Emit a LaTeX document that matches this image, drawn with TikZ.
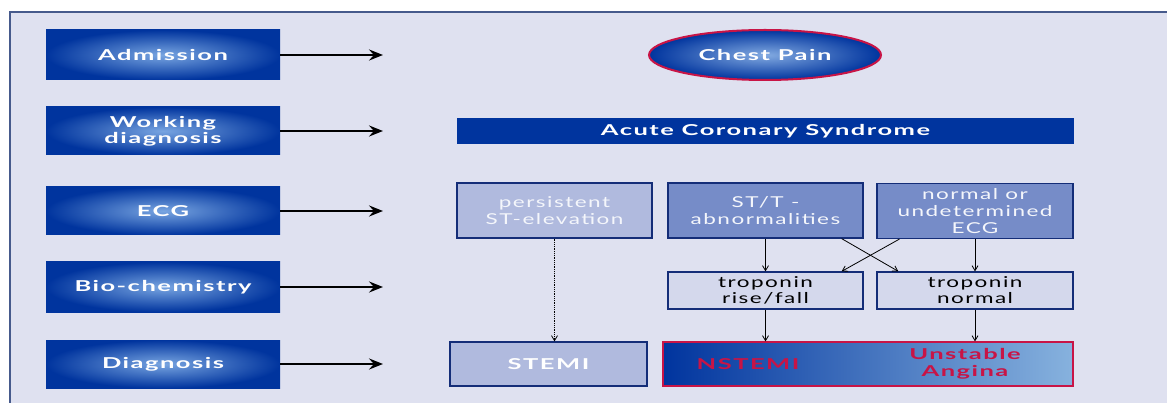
\documentclass[tikz,border=0pt]{standalone}
\usepackage{fontspec}
\setmainfont{Lato}
\newfontfamily\wideface{Lato}[FakeStretch=1.5, LetterSpace=10]
\newfontfamily\widebold{Lato}[FakeStretch=1.7, LetterSpace=10]
\usetikzlibrary{shapes.geometric,arrows.meta}
\definecolor{bgpanel}{RGB}{223,225,240}
\definecolor{frameline}{RGB}{70,90,140}
\definecolor{darkblue}{RGB}{0,52,158}
\definecolor{midblue}{RGB}{118,140,200}
\definecolor{paleblue}{RGB}{176,186,222}
\definecolor{trop}{RGB}{212,216,236}
\definecolor{edgeblue}{RGB}{20,45,120}
\definecolor{alertred}{RGB}{200,20,70}
\tikzset{
  stepbox/.style={rectangle, inner sep=0pt, text=white, font=\widebold\fontsize{15}{16}\selectfont\bfseries,
    inner color={rgb,255:red,120;green,165;blue,225}, outer color=darkblue, align=center},
  ecgbox/.style={rectangle, draw=edgeblue, line width=1.2pt, inner sep=0pt, text=white!92!midblue,
    font=\wideface\fontsize{15}{17}\selectfont, align=center},
  tropbox/.style={rectangle, draw=edgeblue, line width=1.2pt, fill=trop, inner sep=0pt,
    font=\wideface\fontsize{15}{16}\selectfont, align=center},
  rowarrow/.style={line width=2.5pt, -{Stealth[length=14pt,width=11pt,inset=5pt]}},
  thinarrow/.style={line width=0.8pt, -{Straight Barb[length=5pt,width=6pt]}}
}
\begin{document}
\begin{tikzpicture}[x=1pt,y=-1pt]
\useasboundingbox (0,0) rectangle (1167,403);
% panel
\fill[white] (0,0) rectangle (1167,403);
\fill[bgpanel] (10,12) rectangle (1167,403);
\draw[frameline, line width=1.2pt] (10,403) -- (10,12) -- (1167,12);

% left column of steps
\node[stepbox, minimum width=234, minimum height=50] (admission) at (163,55) {Admission};
\node[stepbox, minimum width=234, minimum height=48] (working) at (163,131) {Working\\diagnosis};
\node[stepbox, minimum width=234, minimum height=48] (ecg) at (163,211) {ECG};
\node[stepbox, minimum width=234, minimum height=50] (biochem) at (163,287) {Bio-chemistry};
\node[stepbox, minimum width=234, minimum height=48] (diagnosis) at (163,364) {Diagnosis};

% arrow ends
\coordinate (admissionend) at (383,55);
\coordinate (workingend) at (383,131);
\coordinate (ecgend) at (383,211);
\coordinate (biochemend) at (383,287);
\coordinate (diagnosisend) at (383,364);
\foreach \s in {admission,working,ecg,biochem,diagnosis}
  \draw[rowarrow] (\s.east) -- (\s end);

% admission and working diagnosis
\node[ellipse, draw=alertred, line width=2pt, minimum width=232, minimum height=50, inner sep=0pt,
  inner color={rgb,255:red,130;green,170;blue,225}, outer color=darkblue, text=white,
  font=\widebold\fontsize{15}{16}\selectfont\bfseries] (chestpain) at (765,55) {Chest Pain};
\node[rectangle, fill=darkblue, minimum width=617, minimum height=26, inner sep=0pt, text=white,
  font=\widebold\fontsize{15}{16}\selectfont\bfseries] (acs) at (765.5,131) {Acute Coronary Syndrome};

% ECG row
\node[ecgbox, fill=paleblue, minimum width=195, minimum height=55] (stelev) at (554.5,210.5) {persistent\\ST-elevation};
\node[ecgbox, fill=midblue, minimum width=195, minimum height=55] (stt) at (765.5,210.5) {ST/T -\\abnormalities};
\node[ecgbox, fill=midblue, minimum width=196, minimum height=55] (normecg) at (975,211) {normal or\\undetermined\\ECG};

% bio-chemistry row
\node[tropbox, minimum width=195, minimum height=37] (troprise) at (765.5,290.5) {troponin\\rise/fall};
\node[tropbox, minimum width=196, minimum height=37] (tropnorm) at (975,290.5) {troponin\\normal};

% diagnosis row
\node[ecgbox, fill=paleblue, minimum width=197, minimum height=44, text=white,
  font=\widebold\fontsize{15}{16}\selectfont\bfseries] (stemi) at (548.5,364) {STEMI};
\node[rectangle, draw=alertred, line width=1.2pt, minimum width=410, minimum height=44, inner sep=0pt,
  left color=darkblue, right color={rgb,255:red,135;green,178;blue,222}] (nstemiua) at (868,364) {};
\node[text=alertred, font=\widebold\fontsize{15}{16}\selectfont\bfseries] (nstemi) at (748,364) {NSTEMI};
\node[text=alertred, font=\widebold\fontsize{15}{17}\selectfont\bfseries, align=center] (ua) at (965,364) {Unstable\\Angina};

% connectors
\draw[thinarrow, densely dotted] (stelev.south) -- (stemi.north -| stelev.south);
\draw[thinarrow] (stt.south) -- (troprise.north);
\draw[thinarrow] (troprise.south) -- (troprise.south |- nstemiua.north);
\draw[thinarrow] (normecg.south) -- (tropnorm.north);
\draw[thinarrow] (tropnorm.south) -- (tropnorm.south |- nstemiua.north);
\draw[thinarrow] ([xshift=-22pt]stt.south east) -- ([xshift=22pt]tropnorm.north west);
\draw[thinarrow] ([xshift=23pt]normecg.south west) -- ([xshift=-22pt]troprise.north east);
\end{tikzpicture}
\end{document}
